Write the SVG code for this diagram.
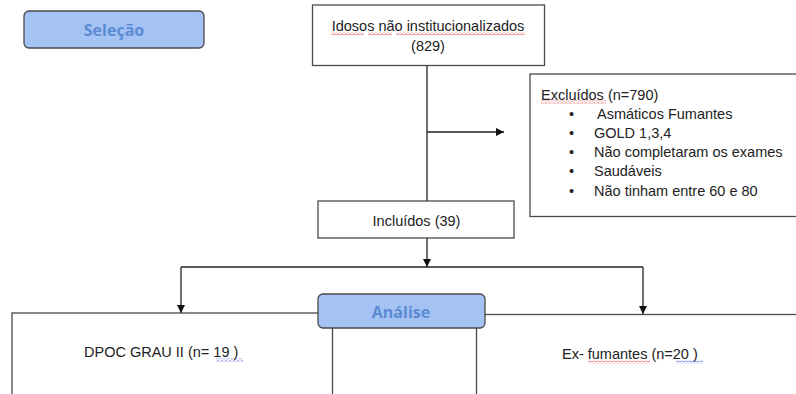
<svg xmlns="http://www.w3.org/2000/svg" width="796" height="394" viewBox="0 0 796 394">
<style>
.box{fill:#ffffff;stroke:#4a4a4a;stroke-width:1.3}
.tag{fill:#a4c2f4;stroke:#4a4a4a;stroke-width:1.3}
.t{font-family:"Liberation Sans",Arial,sans-serif;font-size:14.5px;fill:#222}
.tt{font-family:"Open Sans","Noto Sans",sans-serif;font-size:16px;font-weight:bold;fill:#5b8bd2}
.ln{stroke:#222;stroke-width:1.3;fill:none}
</style>
<defs>
<marker id="ah" viewBox="0 0 10 10" refX="10" refY="5" markerWidth="8" markerHeight="8" markerUnits="userSpaceOnUse" orient="auto">
<path d="M0 0 L10 5 L0 10 Z" fill="#111"/>
</marker>
<pattern id="wr" width="4" height="3" patternUnits="userSpaceOnUse">
<path d="M0 2.5 L2 0.5 L4 2.5" stroke="#e03030" stroke-width="0.8" fill="none"/>
</pattern>
<pattern id="wb" width="4" height="3" patternUnits="userSpaceOnUse">
<path d="M0 2.5 L2 0.5 L4 2.5" stroke="#3040e0" stroke-width="0.8" fill="none"/>
</pattern>
</defs>
<g id="connectors">
<line class="ln" x1="427" y1="66" x2="427" y2="201"/>
<line class="ln" x1="427" y1="132" x2="504" y2="132" marker-end="url(#ah)"/>
<line class="ln" x1="427" y1="238" x2="427" y2="267" marker-end="url(#ah)"/>
<line class="ln" x1="181" y1="267" x2="643" y2="267"/>
<line class="ln" x1="181" y1="267" x2="181" y2="313" marker-end="url(#ah)"/>
<line class="ln" x1="643" y1="267" x2="643" y2="314" marker-end="url(#ah)"/>
</g>
<g id="selecao">
<rect class="tag" x="24" y="11" width="180" height="37" rx="5"/>
<text class="tt" x="114" y="36" text-anchor="middle">Seleção</text>
</g>
<g id="idosos">
<rect class="box" x="312.5" y="5" width="232" height="60.5"/>
<text class="t" x="428" y="31" text-anchor="middle">Idosos não institucionalizados</text>
<text class="t" x="428" y="51" text-anchor="middle">(829)</text>
<rect x="331" y="32" width="33" height="3" fill="url(#wr)"/>
<rect x="368" y="32" width="24" height="3" fill="url(#wr)"/>
<rect x="396" y="32" width="129" height="3" fill="url(#wr)"/>
</g>
<g id="excluidos">
<rect class="box" x="530" y="74" width="270" height="142.5"/>
<text class="t" x="541" y="99.5">Excluídos (n=790)</text>
<rect x="541" y="100.5" width="65" height="3" fill="url(#wr)"/>
<g class="t">
<text x="569" y="118.5">•</text><text x="597" y="118.5">Asmáticos Fumantes</text>
<text x="569" y="137.5">•</text><text x="594" y="137.5">GOLD 1,3,4</text>
<text x="569" y="157">•</text><text x="594" y="157">Não completaram os exames</text>
<text x="569" y="176">•</text><text x="594" y="176">Saudáveis</text>
<text x="569" y="195.5">•</text><text x="594" y="195.5">Não tinham entre 60 e 80</text>
</g>
</g>
<g id="incluidos">
<rect class="box" x="318" y="201" width="196" height="37"/>
<text class="t" x="416.5" y="226" text-anchor="middle">Incluídos (39)</text>
</g>
<g id="dpoc">
<rect class="box" x="12" y="313" width="320.5" height="100"/>
<text class="t" x="84" y="357">DPOC GRAU II (n= 19 )</text>
<rect x="216" y="358.5" width="27" height="3" fill="url(#wb)"/>
</g>
<g id="exfumantes">
<rect class="box" x="476.5" y="314.5" width="330" height="100"/>
<text class="t" x="562" y="359">Ex- fumantes (n=20 )</text>
<rect x="588" y="360.5" width="62" height="3" fill="url(#wr)"/>
<rect x="676" y="360.5" width="27" height="3" fill="url(#wb)"/>
</g>
<g id="analise">
<rect class="tag" x="318" y="294" width="167" height="34" rx="5"/>
<text class="tt" x="401" y="318" text-anchor="middle">Análise</text>
</g>
</svg>
